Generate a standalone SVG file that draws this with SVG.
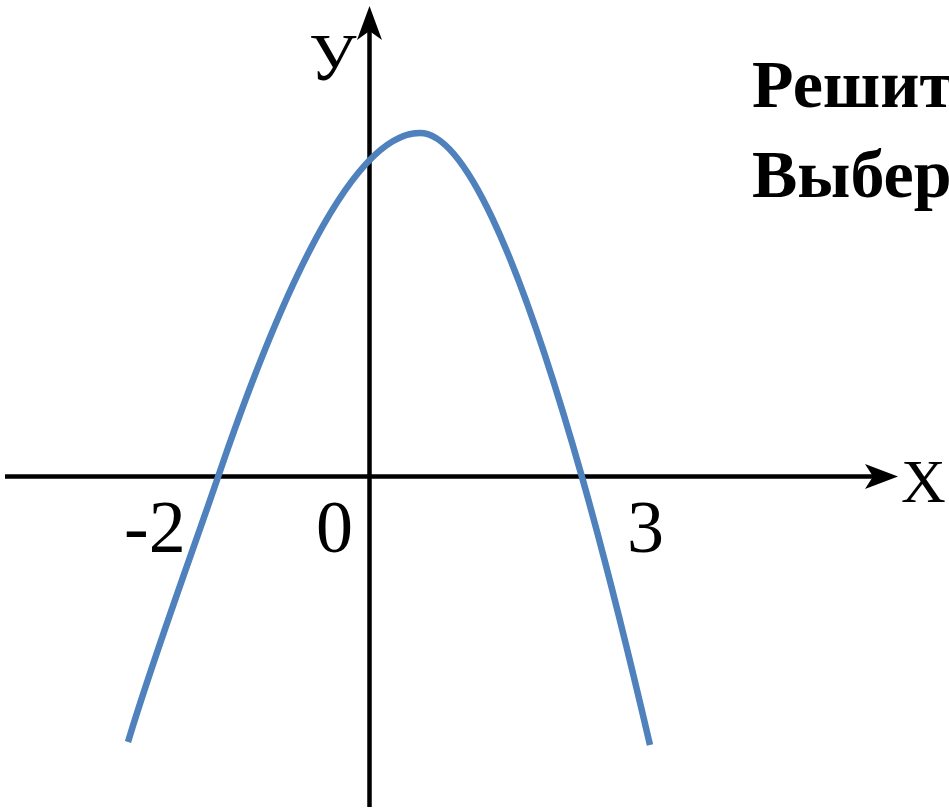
<svg xmlns="http://www.w3.org/2000/svg" width="949" height="811" viewBox="0 0 949 811">
  <defs>
    <style>
      .axis { stroke: #000; stroke-width: 4.5; fill: none; }
      .head { fill: #000; stroke: none; }
      .curve { stroke: #4F81BD; stroke-width: 6.5; fill: none; stroke-linecap: butt; }
      .lbl { font-family: "Liberation Serif", "Times New Roman", serif; fill: #000; }
      .title { font-family: "Liberation Serif", "Times New Roman", serif; font-weight: bold; font-size: 68px; fill: #000; }
    </style>
  </defs>
  <rect width="949" height="811" fill="#fff"/>

  <g id="connectors">
    <g id="x-axis">
      <line class="axis" x1="5" y1="476.5" x2="876" y2="476.5"/>
      <path class="head" d="M898,476.5 L865,464 L873,476.5 L865,489 Z"/>
    </g>
    <g id="y-axis">
      <line class="axis" x1="369.5" y1="807" x2="369.5" y2="30"/>
      <path class="head" d="M369.5,6 L382,40 L369.5,31 L357,40 Z"/>
    </g>
  </g>

  <g id="parabola">
    <path class="curve" d="M128,742 C153.5,657 189,562 218,477 C296,248 363,133 420,133 C463,133 517,248 582,477 C607.5,567 629,655 650,745"/>
  </g>

  <g id="labels">
    <text id="label-y" class="lbl" x="309" y="80" font-size="67">У</text>
    <text id="label-x" class="lbl" x="901" y="502" font-size="62">X</text>
    <text id="label-m2" class="lbl" x="124" y="552" font-size="74">-2</text>
    <text id="label-0" class="lbl" x="316" y="552" font-size="74">0</text>
    <text id="label-3" class="lbl" x="627" y="552" font-size="74">3</text>
  </g>

  <g id="title">
    <text class="title" x="752" y="107">Решит</text>
    <text class="title" x="752" y="197">Выбер</text>
  </g>
</svg>
